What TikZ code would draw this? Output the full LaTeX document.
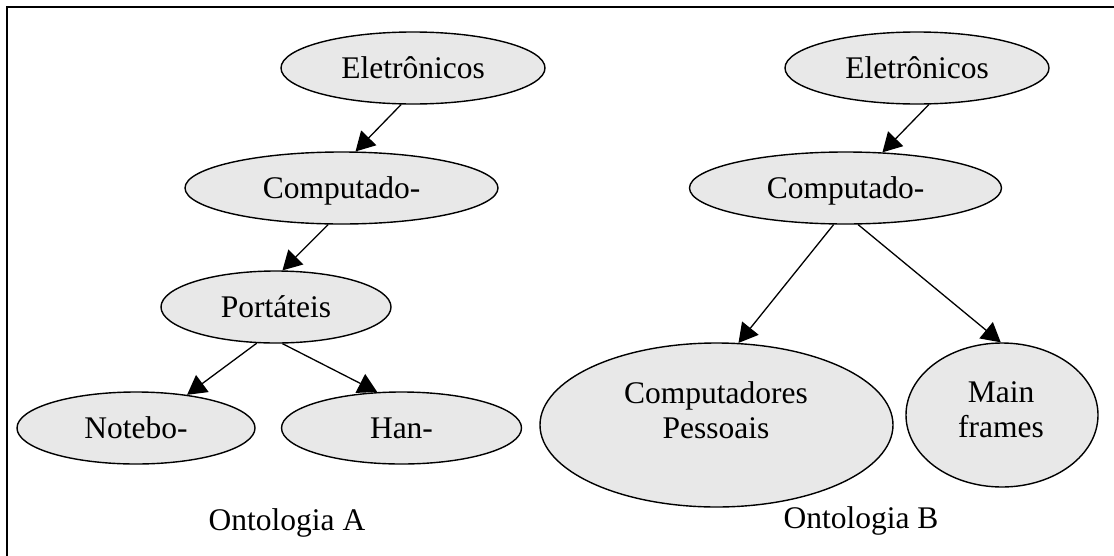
\documentclass[tikz,border=0pt]{standalone}
\usepackage{fontspec}
\setmainfont{Liberation Serif}
\usetikzlibrary{shapes.geometric,arrows.meta}
\definecolor{nodefill}{RGB}{232,232,232}
\tikzset{
  concept/.style={ellipse, draw=black, line width=1.4pt, fill=nodefill,
    inner sep=0pt, font=\fontsize{31.5}{35}\selectfont,
    text height=20pt, text depth=0pt},
  caption/.style={font=\fontsize{31.5}{35}\selectfont, inner sep=0pt,
    text height=20pt, text depth=0pt},
  twoline/.style={font=\fontsize{31.5}{35}\selectfont, inner sep=0pt, align=center},
  isa/.style={line width=1.3pt, -{Triangle[length=19pt,width=21pt]}},
}
\begin{document}
\begin{tikzpicture}[x=1pt,y=-1pt]
\useasboundingbox (0,0) rectangle (1114,555);
\clip (0,0) rectangle (1114,555);
\draw[line width=2.2pt] (7,7) rectangle (1140,580);

% Ontologia A
\node[concept, minimum width=264pt, minimum height=72pt] (ea) at (413,68) {Eletrônicos};
\node[concept, minimum width=313pt, minimum height=72pt] (ca) at (341.5,188) {Computado-};
\node[concept, minimum width=230pt, minimum height=72pt] (pa) at (276,307) {Portáteis};
\node[concept, minimum width=238pt, minimum height=72pt] (na) at (136,428) {Notebo-};
\node[concept, minimum width=240pt, minimum height=72pt] (ha) at (401.5,428) {Han-};
\node[caption] (ta) at (287,520) {Ontologia A};

\draw[isa] (ea.-108) -- (ca.69);
\draw[isa] (ca.-110) -- (pa.80);
\draw[isa] (pa.-118) -- (na.33);
\draw[isa] (pa.-80) -- (ha.124);

% Ontologia B
\node[concept, minimum width=264pt, minimum height=72pt] (eb) at (917,68) {Eletrônicos};
\node[concept, minimum width=312pt, minimum height=72pt] (cb) at (845.5,188) {Computado-};
\node[concept, minimum width=353pt, minimum height=164pt] (pb) at (716.5,425) {};
\node[twoline] (pbt) at (716,410) {Computadores\\Pessoais};
\node[concept, minimum width=192pt, minimum height=144pt] (mb) at (1002,415) {};
\node[twoline] (mbt) at (1001,410) {Main\\frames};
\node[caption] (tb) at (861,518) {Ontologia B};

\draw[isa] (eb.-72) -- (cb.44);
\draw[isa] (cb.-108) -- (pb.75);
\draw[isa] (cb.-71) -- (mb.91);
\end{tikzpicture}
\end{document}
